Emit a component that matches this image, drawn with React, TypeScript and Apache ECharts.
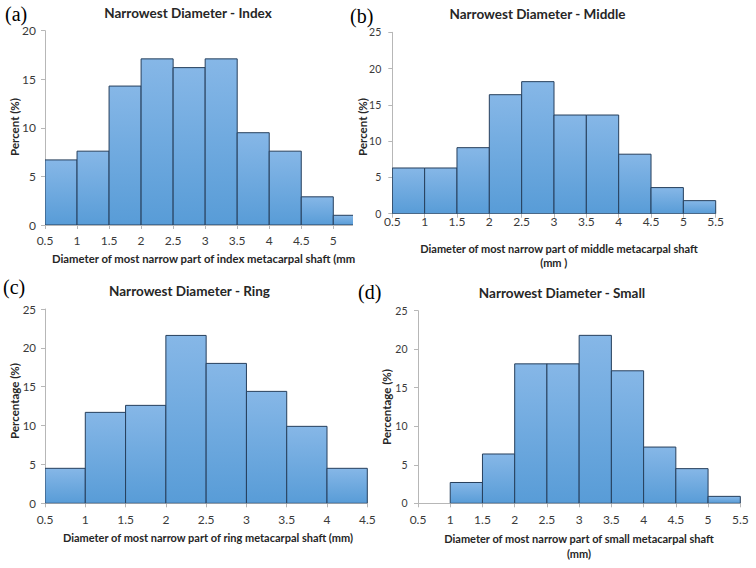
import React, { useEffect, useRef } from "react";
import * as echarts from "echarts";

const BIN_WIDTH = 0.5;

const binsIndex = [0.5, 1, 1.5, 2, 2.5, 3, 3.5, 4, 4.5, 5];
const percentIndex = [6.7, 7.6, 14.3, 17.1, 16.2, 17.1, 9.5, 7.6, 2.9, 1.0];

const binsMiddle = [0.5, 1, 1.5, 2, 2.5, 3, 3.5, 4, 4.5, 5];
const percentMiddle = [6.3, 6.3, 9.1, 16.4, 18.2, 13.6, 13.6, 8.2, 3.6, 1.8];

const binsRing = [0.5, 1, 1.5, 2, 2.5, 3, 3.5, 4];
const percentRing = [4.5, 11.7, 12.6, 21.6, 18.0, 14.4, 9.9, 4.5];

const binsSmall = [0.5, 1, 1.5, 2, 2.5, 3, 3.5, 4, 4.5, 5];
const percentSmall = [0, 2.7, 6.4, 18.1, 18.1, 21.8, 17.2, 7.3, 4.5, 0.9];

const ticksIndex = [0.5, 1, 1.5, 2, 2.5, 3, 3.5, 4, 4.5, 5];

const titles = [
  "Narrowest Diameter - Index",
  "Narrowest Diameter - Middle",
  "Narrowest Diameter - Ring",
  "Narrowest Diameter - Small",
];
const panelLetters = ["(a)", "(b)", "(c)", "(d)"];
const yNames = ["Percent (%)", "Percent (%)", "Percentage (%)", "Percentage (%)"];

const FONT = "Lato, 'Open Sans', sans-serif";

function toData(bins: number[], vals: number[]) {
  return bins.map((b, i) => [b, b + BIN_WIDTH, vals[i]]);
}

export default function App() {
  const ref = useRef<HTMLDivElement>(null);
  useEffect(() => {
    if (!ref.current) return;
    const chart = echarts.init(ref.current, undefined, { renderer: "svg" });

    const grids = [
      { left: 45, top: 30.7, width: 307.5, height: 194.3 },
      { left: 392.3, top: 32.3, width: 323.4, height: 181.4 },
      { left: 45, top: 309, width: 322.3, height: 194.3 },
      { left: 418, top: 310.7, width: 322.3, height: 192.6 },
    ];
    const xCfg = [
      { min: 0.5, max: 5.3, margin: 9 },
      { min: 0.5, max: 5.5, margin: 2 },
      { min: 0.5, max: 4.5, margin: 10.5 },
      { min: 0.5, max: 5.5, margin: 10.5 },
    ];
    const yCfg = [
      { max: 20, margin: 9, size: 12 },
      { max: 25, margin: 11, size: 10.5 },
      { max: 25, margin: 9, size: 11.5 },
      { max: 25, margin: 10.5, size: 10.5 },
    ];
    const datas = [
      toData(binsIndex, percentIndex),
      toData(binsMiddle, percentMiddle),
      toData(binsRing, percentRing),
      toData(binsSmall, percentSmall),
    ];

    const axisLineStyle = { color: "#b7b7b7", width: 1 };
    const labelStyle = { color: "#3a3a3a", fontSize: 12, fontFamily: FONT };

    const xAxes = xCfg.map((c, i) => {
      const ax: any = {
        type: "value",
        gridIndex: i,
        min: c.min,
        max: c.max,
        interval: 0.5,
        splitLine: { show: false },
        axisLine: { show: true, lineStyle: axisLineStyle },
        axisTick: { show: true, length: 4, lineStyle: axisLineStyle },
        axisLabel: { ...labelStyle, margin: c.margin },
      };
      if (i === 0) {
        ax.axisLabel.customValues = ticksIndex;
        ax.axisTick.customValues = ticksIndex;
      }
      return ax;
    });
    const yAxes = yCfg.map((c, i) => ({
      type: "value",
      gridIndex: i,
      min: 0,
      max: c.max,
      interval: 5,
      splitLine: { show: false },
      axisLine: { show: true, lineStyle: axisLineStyle },
      axisTick: { show: true, length: 4, lineStyle: axisLineStyle },
      axisLabel: { ...labelStyle, fontSize: c.size, margin: c.margin },
    }));

    const makeFill = () =>
      new echarts.graphic.LinearGradient(0, 0, 0, 1, [
        { offset: 0, color: "#86b7e7" },
        { offset: 1, color: "#589cd7" },
      ]);

    const series = datas.map((d, i) => ({
      type: "custom",
      xAxisIndex: i,
      yAxisIndex: i,
      clip: true,
      data: d,
      renderItem: (params: any, api: any) => {
        const x0 = api.value(0);
        const x1 = api.value(1);
        const y = api.value(2);
        if (!y) return null;
        const p0 = api.coord([x0, y]);
        const p1 = api.coord([x1, 0]);
        return {
          type: "rect",
          shape: { x: p0[0], y: p0[1], width: p1[0] - p0[0], height: p1[1] - p0[1] },
          style: { fill: makeFill(), stroke: "#263f5c", lineWidth: 1 },
        };
      },
    }));

    const titlePos = [
      [188, 13],
      [537.5, 14],
      [189.5, 291],
      [562, 293],
    ];
    const letterPos = [
      [5, 14],
      [350, 16],
      [3, 287],
      [358, 292],
    ];
    const yNamePos = [
      [14, 127],
      [362.5, 127],
      [14, 401],
      [386, 407],
    ];
    const text = (t: string, x: number, y: number, font: string, fill: string, align = "center", rotation = 0) => ({
      type: "text",
      x,
      y,
      rotation,
      style: {
        text: t,
        font,
        fill,
        textAlign: align,
        textVerticalAlign: "middle",
        align,
        verticalAlign: "middle",
      },
    });

    const graphics: any[] = [];
    titles.forEach((t, i) =>
      graphics.push(text(t, titlePos[i][0], titlePos[i][1], `bold 13.5px ${FONT}`, "#262626"))
    );
    panelLetters.forEach((t, i) =>
      graphics.push(
        text(t, letterPos[i][0], letterPos[i][1], `20px 'Liberation Serif', 'Times New Roman', serif`, "#000", "left")
      )
    );
    yNames.forEach((t, i) =>
      graphics.push(
        text(t, yNamePos[i][0], yNamePos[i][1], `bold 11.5px ${FONT}`, "#262626", "center", Math.PI / 2)
      )
    );
    const xFont = `bold 11px ${FONT}`;
    graphics.push(text("Diameter of most narrow part of index metacarpal shaft (mm", 52, 258, `bold 11.3px ${FONT}`, "#262626", "left"));
    graphics.push(text("Diameter of most narrow part of middle metacarpal shaft", 559, 248, xFont, "#262626"));
    graphics.push(text("(mm )", 553.7, 262, xFont, "#262626"));
    graphics.push(text("Diameter of most narrow part of ring metacarpal shaft (mm)", 208, 537, xFont, "#262626"));
    graphics.push(text("Diameter of most narrow part of small metacarpal shaft", 579, 538, xFont, "#262626"));
    graphics.push(text("(mm)", 579, 553, xFont, "#262626"));

    chart.setOption({
      animation: false,
      backgroundColor: "#ffffff",
      grid: grids.map((g) => ({ ...g, containLabel: false })),
      xAxis: xAxes,
      yAxis: yAxes,
      series,
      graphic: { elements: graphics },
    });

    return () => chart.dispose();
  }, []);

  return (
    <div
      ref={ref}
      style={{ position: "absolute", left: 0, top: 0, width: 756, height: 568, background: "#fff" }}
    />
  );
}
